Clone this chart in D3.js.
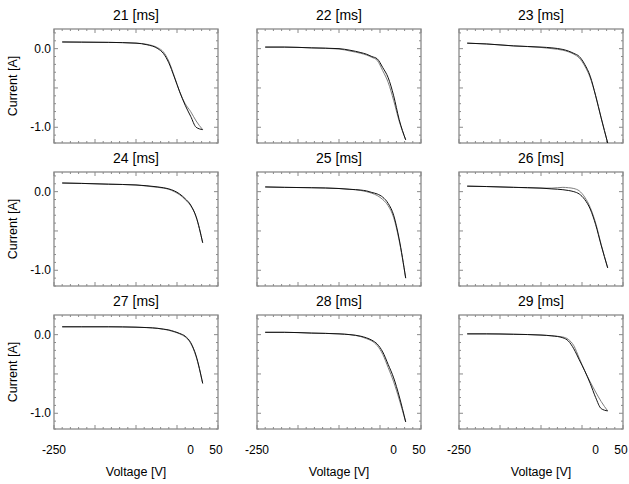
<!DOCTYPE html>
<html lang="en">
<head>
<meta charset="UTF-8">
<title>I-V curves</title>
<script src="https://cdn.jsdelivr.net/npm/d3@7"></script>
<style>
  body { margin: 0; background: #fff; }
  svg { display: block; font-family: "Liberation Sans", Arial, sans-serif; }
</style>
</head>
<body>
<div id="chart"></div>
<script>
// panel titles (time of the sweep)
const times = [21, 22, 23, 24, 25, 26, 27, 28, 29];

// voltage grid shared by every sweep
const voltage = [-235, -200, -150, -100, -80, -60, -50, -40, -30, -20, -10, 0, 10, 22];

// current of the first sweep (black) in each panel
const sweepA = [
  [0.085, 0.083, 0.08, 0.07, 0.05, 0.0, -0.06, -0.18, -0.36, -0.55, -0.72, -0.86, -1.0, -1.03],
  [0.02, 0.02, 0.01, 0.0, -0.02, -0.05, -0.07, -0.1, -0.13, -0.24, -0.37, -0.6, -0.9, -1.16],
  [0.07, 0.06, 0.035, 0.02, 0.01, -0.01, -0.03, -0.06, -0.1, -0.2, -0.35, -0.6, -0.88, -1.2],
  [0.11, 0.105, 0.095, 0.085, 0.075, 0.06, 0.05, 0.035, 0.01, -0.03, -0.09, -0.17, -0.32, -0.65],
  [0.06, 0.055, 0.05, 0.04, 0.03, 0.02, 0.01, -0.01, -0.03, -0.07, -0.15, -0.3, -0.6, -1.1],
  [0.07, 0.065, 0.055, 0.045, 0.035, 0.025, 0.015, 0.0, -0.03, -0.1, -0.22, -0.42, -0.68, -0.97],
  [0.1, 0.1, 0.1, 0.095, 0.09, 0.08, 0.07, 0.06, 0.04, 0.015, -0.02, -0.1, -0.27, -0.62],
  [0.03, 0.03, 0.02, 0.01, 0.0, -0.02, -0.04, -0.07, -0.12, -0.22, -0.38, -0.55, -0.78, -1.11],
  [0.01, 0.01, 0.005, -0.005, -0.015, -0.04, -0.08, -0.18, -0.32, -0.46, -0.62, -0.8, -0.94, -0.97]
];

// current of the return sweep (grey) in each panel
const sweepB = [
  [0.085, 0.083, 0.08, 0.07, 0.055, 0.01, -0.04, -0.16, -0.35, -0.55, -0.7, -0.8, -0.92, -1.03],
  [0.02, 0.02, 0.01, -0.005, -0.03, -0.06, -0.08, -0.11, -0.15, -0.28, -0.43, -0.66, -0.92, -1.16],
  [0.07, 0.06, 0.035, 0.015, 0.0, -0.02, -0.04, -0.07, -0.12, -0.22, -0.37, -0.6, -0.88, -1.2],
  [0.11, 0.105, 0.095, 0.085, 0.07, 0.055, 0.045, 0.03, 0.0, -0.04, -0.1, -0.18, -0.32, -0.65],
  [0.06, 0.055, 0.05, 0.04, 0.03, 0.015, 0.0, -0.02, -0.05, -0.1, -0.18, -0.33, -0.62, -1.1],
  [0.07, 0.065, 0.055, 0.045, 0.045, 0.055, 0.05, 0.04, 0.01, -0.07, -0.2, -0.4, -0.67, -0.97],
  [0.1, 0.1, 0.1, 0.095, 0.09, 0.08, 0.07, 0.055, 0.035, 0.01, -0.03, -0.11, -0.28, -0.62],
  [0.03, 0.03, 0.02, 0.01, 0.0, -0.025, -0.05, -0.08, -0.14, -0.25, -0.42, -0.6, -0.82, -1.11],
  [0.01, 0.01, 0.005, -0.005, -0.015, -0.03, -0.06, -0.14, -0.3, -0.46, -0.6, -0.73, -0.85, -0.97]
];

const xTickLabels = [-250, 0, 50];
const yTickLabels = [0.0, -1.0];

const width = 629, height = 484;
const colX = [54, 257, 459];
const rowY = [29, 172, 315];
const pw = 164, ph = 114;

const svg = d3.select("#chart").append("svg")
  .attr("width", width)
  .attr("height", height);

const x = d3.scaleLinear().domain([-250, 50]).range([0, pw]);
const y = d3.scaleLinear().domain([-1.2, 0.25]).range([ph, 0]);

const frame = "#8a8a8a";

const line = d3.line()
  .x(d => x(d[0]))
  .y(d => y(d[1]))
  .curve(d3.curveMonotoneX);

times.forEach((t, i) => {
  const col = i % 3, row = Math.floor(i / 3);
  const g = svg.append("g")
    .attr("transform", `translate(${colX[col]},${rowY[row]})`);

  // minor ticks on all four sides
  const xMinor = d3.range(-250, 50.1, 15);
  const yMinor = d3.range(-1.2, 0.251, 0.1);
  const tickLen = v => (Math.abs(v % 75) < 1e-6 ? 4 : 2);
  const yLen = v => (Math.abs(Math.round(v * 10) % 5) === 0 ? 4 : 2);

  g.selectAll(".xt").data(xMinor).join("line")
    .attr("x1", d => x(d)).attr("x2", d => x(d))
    .attr("y1", ph).attr("y2", d => ph - tickLen(d + 250))
    .attr("stroke", frame);
  g.selectAll(".xtt").data(xMinor).join("line")
    .attr("x1", d => x(d)).attr("x2", d => x(d))
    .attr("y1", 0).attr("y2", d => tickLen(d + 250))
    .attr("stroke", frame);
  g.selectAll(".yt").data(yMinor).join("line")
    .attr("y1", d => y(d)).attr("y2", d => y(d))
    .attr("x1", 0).attr("x2", d => yLen(d))
    .attr("stroke", frame);
  g.selectAll(".ytr").data(yMinor).join("line")
    .attr("y1", d => y(d)).attr("y2", d => y(d))
    .attr("x1", pw).attr("x2", d => pw - yLen(d))
    .attr("stroke", frame);

  g.append("rect")
    .attr("width", pw).attr("height", ph)
    .attr("fill", "none")
    .attr("stroke", frame)
    .attr("stroke-width", 1.3);

  // the two sweeps
  g.append("path")
    .datum(voltage.map((v, k) => [v, sweepB[i][k]]))
    .attr("d", line)
    .attr("fill", "none")
    .attr("stroke", "#6e6e6e")
    .attr("stroke-width", 0.9);
  g.append("path")
    .datum(voltage.map((v, k) => [v, sweepA[i][k]]))
    .attr("d", line)
    .attr("fill", "none")
    .attr("stroke", "#111")
    .attr("stroke-width", 1);

  g.append("text")
    .attr("x", pw / 2).attr("y", -9)
    .attr("text-anchor", "middle")
    .attr("font-size", 14)
    .text(`${t} [ms]`);

  if (col === 0) {
    g.selectAll(".yl").data(yTickLabels).join("text")
      .attr("x", -3).attr("y", d => y(d) + 4)
      .attr("text-anchor", "end")
      .attr("font-size", 12)
      .text(d => d3.format(".1f")(d).replace("−", "-"));
    g.append("text")
      .attr("transform", `translate(-37,${ph / 2}) rotate(-90)`)
      .attr("text-anchor", "middle")
      .attr("font-size", 12.5)
      .text("Current [A]");
  }

  if (row === 2) {
    g.selectAll(".xl").data(xTickLabels).join("text")
      .attr("x", d => x(d) - (d === 50 ? 2 : 0)).attr("y", ph + 25)
      .attr("text-anchor", "middle")
      .attr("font-size", 12)
      .text(d => d);
    g.append("text")
      .attr("x", pw / 2).attr("y", ph + 47)
      .attr("text-anchor", "middle")
      .attr("font-size", 12.5)
      .text("Voltage [V]");
  }
});
</script>
</body>
</html>
